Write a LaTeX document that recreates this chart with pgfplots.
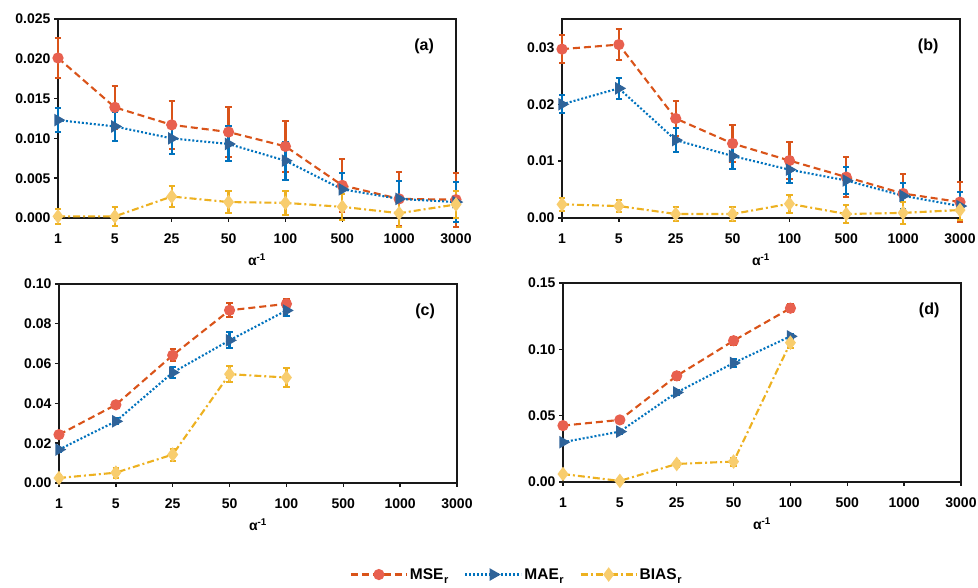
\documentclass[border=0pt]{standalone}
\usepackage{fontspec}
\setmainfont{Liberation Sans}
\usepackage{pgfplots}
\pgfplotsset{compat=1.18}
\usepackage{pgfplotstable}

\definecolor{mseline}{HTML}{D95319}
\definecolor{msefill}{HTML}{E8604F}
\definecolor{maeline}{HTML}{0072BD}
\definecolor{maefill}{HTML}{2F6399}
\definecolor{biasline}{HTML}{EDB120}
\definecolor{biasfill}{HTML}{F8CD6E}

% ---- (a)
\pgfplotstableread{
x y e
0 0.0201 0.0025
1 0.0139 0.0027
2 0.0117 0.0030
3 0.0108 0.0032
4 0.0090 0.0032
5 0.0041 0.0033
6 0.0024 0.0034
7 0.0023 0.0034
}\aMSE
\pgfplotstableread{
x y e
0 0.0123 0.0015
1 0.0115 0.0018
2 0.0100 0.0019
3 0.0093 0.0022
4 0.0072 0.0024
5 0.0036 0.0021
6 0.0024 0.0022
7 0.0020 0.0025
}\aMAE
\pgfplotstableread{
x y e
0 0.0002 0.0009
1 0.0002 0.0012
2 0.0027 0.0013
3 0.0020 0.0014
4 0.0019 0.0015
5 0.0014 0.0016
6 0.0006 0.0017
7 0.0017 0.0017
}\aBIAS
% ---- (b)
\pgfplotstableread{
x y e
0 0.0297 0.0025
1 0.0305 0.0028
2 0.0175 0.0030
3 0.0131 0.0032
4 0.0101 0.0033
5 0.0072 0.0035
6 0.0043 0.0034
7 0.0028 0.0035
}\bMSE
\pgfplotstableread{
x y e
0 0.0200 0.0016
1 0.0228 0.0018
2 0.0137 0.0021
3 0.0109 0.0023
4 0.0085 0.0023
5 0.0066 0.0024
6 0.0039 0.0023
7 0.0021 0.0025
}\bMAE
\pgfplotstableread{
x y e
0 0.0024 0.0011
1 0.0021 0.0011
2 0.0007 0.0013
3 0.0007 0.0013
4 0.0025 0.0016
5 0.0007 0.0016
6 0.0009 0.0020
7 0.0014 0.0018
}\bBIAS
% ---- (c)
\pgfplotstableread{
x y e
0 0.0243 0.0010
1 0.0393 0.0015
2 0.0642 0.0030
3 0.0868 0.0035
4 0.0900 0.0025
}\cMSE
\pgfplotstableread{
x y e
0 0.0168 0.0010
1 0.0310 0.0015
2 0.0555 0.0028
3 0.0717 0.0040
4 0.0867 0.0030
}\cMAE
\pgfplotstableread{
x y e
0 0.0025 0.0015
1 0.0052 0.0025
2 0.0143 0.0030
3 0.0547 0.0040
4 0.0530 0.0050
}\cBIAS
% ---- (d)
\pgfplotstableread{
x y e
0 0.0425 0.0010
1 0.0468 0.0015
2 0.0800 0.0030
3 0.1065 0.0030
4 0.1310 0.0030
}\dMSE
\pgfplotstableread{
x y e
0 0.0300 0.0010
1 0.0380 0.0015
2 0.0675 0.0020
3 0.0897 0.0030
4 0.1098 0.0020
}\dMAE
\pgfplotstableread{
x y e
0 0.0060 0.0015
1 0.0008 0.0015
2 0.0136 0.0020
3 0.0154 0.0030
4 0.1050 0.0040
}\dBIAS

\tikzset{panellabel/.style={font=\fontsize{16}{18}\selectfont\bfseries}}
\newcommand{\sub}[1]{\kern0.5pt\raisebox{-4.5pt}{\fontsize{11}{12}\selectfont #1}}

\pgfplotsset{
  panel/.style={
    scale only axis, width=398pt, height=199pt,
    xmin=0, xmax=7, ymin=0,
    xtick={0,...,7}, xticklabels={1,5,25,50,100,500,1000,3000},
    axis line style={line width=1.6pt, black!90},
    tick style={line width=1.4pt, black!90},
    tick align=outside, xtick pos=bottom, ytick pos=left,
    major tick length=4pt,
    ticklabel style={font=\fontsize{14}{16}\selectfont\bfseries},
    xticklabel shift=8pt,
    /pgf/number format/assume math mode=true,
    /pgf/number format/fixed, /pgf/number format/fixed zerofill,
    scaled y ticks=false,
    clip=false,
    xlabel={α\textsuperscript{-1}},
    xlabel style={font=\fontsize{14}{16}\selectfont\bfseries,
      at={(axis description cs:0.5,0)}, anchor=north, yshift=-32pt},
  },
  msestyle/.style={color=mseline, line width=2.1pt, dash pattern=on 7pt off 4pt,
    mark=*, mark size=4.5pt, mark options={solid, fill=msefill, draw=msefill},
    error bars/.cd, y dir=both, y explicit,
    error bar style={line width=2.2pt, mseline, solid},
    error mark options={rotate=90, mark size=3.2pt, line width=2pt, mseline, solid}},
  maestyle/.style={color=maeline, line width=2.1pt, dash pattern=on 2pt off 2pt,
    mark=triangle*, mark size=5.2pt, mark options={solid, rotate=-90, fill=maefill, draw=maefill},
    error bars/.cd, y dir=both, y explicit,
    error bar style={line width=2.2pt, maeline, solid},
    error mark options={rotate=90, mark size=3.2pt, line width=2pt, maeline, solid}},
  biasstyle/.style={color=biasline, line width=2.1pt, dash pattern=on 7pt off 3pt on 2pt off 3pt,
    mark=diamond*, mark size=5.6pt, mark options={solid, fill=biasfill, draw=biasfill},
    error bars/.cd, y dir=both, y explicit,
    error bar style={line width=2.2pt, biasline, solid},
    error mark options={rotate=90, mark size=3.2pt, line width=2pt, biasline, solid}},
}

\begin{document}
\begin{tikzpicture}
\useasboundingbox (0,0) rectangle (978pt,588pt);

% (a)
\begin{axis}[panel, at={(58pt,370pt)}, anchor=south west,
  ymax=0.025, ytick={0,0.005,...,0.0251}, yticklabel style={/pgf/number format/precision=3}]
\addplot[msestyle] table[x=x,y=y,y error=e] {\aMSE};
\addplot[maestyle] table[x=x,y=y,y error=e] {\aMAE};
\addplot[biasstyle] table[x=x,y=y,y error=e] {\aBIAS};
\node[panellabel] at (rel axis cs:0.92,0.86) {(a)};
\end{axis}

% (b)
\begin{axis}[panel, at={(562pt,370pt)}, anchor=south west,
  ymax=0.035, ytick={0,0.01,0.02,0.03}, yticklabel style={/pgf/number format/precision=2}]
\addplot[msestyle] table[x=x,y=y,y error=e] {\bMSE};
\addplot[maestyle] table[x=x,y=y,y error=e] {\bMAE};
\addplot[biasstyle] table[x=x,y=y,y error=e] {\bBIAS};
\node[panellabel] at (rel axis cs:0.92,0.86) {(b)};
\end{axis}

% (c)
\begin{axis}[panel, at={(59pt,105pt)}, anchor=south west,
  ymax=0.10, ytick={0,0.02,0.04,0.06,0.08,0.10}, yticklabel style={/pgf/number format/precision=2},
  legend columns=3,
  legend style={at={(1.15,-0.46)}, anchor=center, draw=none, fill=none,
    font=\fontsize{15.5}{18}\selectfont\bfseries,
    /tikz/every even column/.append style={column sep=14pt}},
  legend image code/.code={\draw[mark repeat=2,mark phase=2,#1] plot coordinates {(0pt,0pt) (28pt,0pt) (56pt,0pt)};}]
\addplot[msestyle] table[x=x,y=y,y error=e] {\cMSE};
\addplot[maestyle] table[x=x,y=y,y error=e] {\cMAE};
\addplot[biasstyle] table[x=x,y=y,y error=e] {\cBIAS};
\legend{MSE\sub{r}, MAE\sub{r}, BIAS\sub{r}}
\node[panellabel] at (rel axis cs:0.92,0.86) {(c)};
\end{axis}

% (d)
\begin{axis}[panel, at={(563pt,106pt)}, anchor=south west,
  ymax=0.15, ytick={0,0.05,0.10,0.15}, yticklabel style={/pgf/number format/precision=2}]
\addplot[msestyle] table[x=x,y=y,y error=e] {\dMSE};
\addplot[maestyle] table[x=x,y=y,y error=e] {\dMAE};
\addplot[biasstyle] table[x=x,y=y,y error=e] {\dBIAS};
\node[panellabel] at (rel axis cs:0.92,0.86) {(d)};
\end{axis}
\end{tikzpicture}
\end{document}
